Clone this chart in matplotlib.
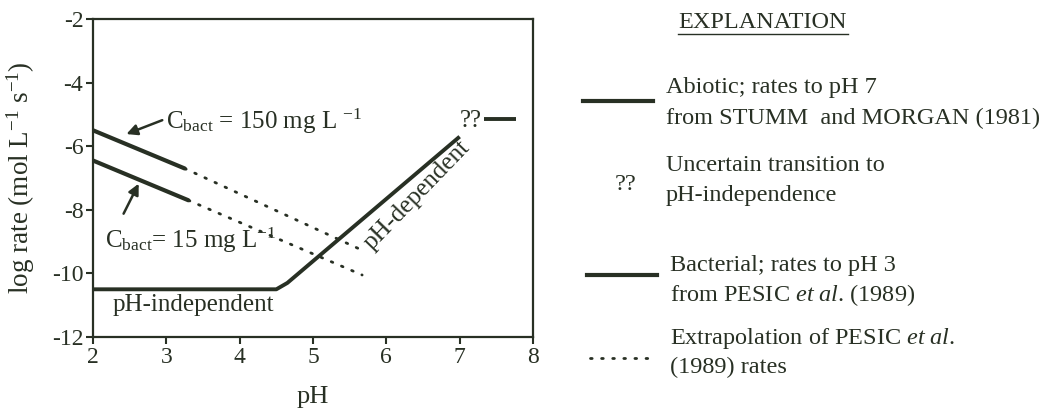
import matplotlib
matplotlib.use("Agg")
import matplotlib.pyplot as plt
from matplotlib.lines import Line2D

plt.rcParams['font.family'] = ['Liberation Serif', 'DejaVu Serif']
plt.rcParams['mathtext.fontset'] = 'custom'
plt.rcParams['mathtext.rm'] = 'Liberation Serif'
plt.rcParams['mathtext.it'] = 'Liberation Serif:italic'
plt.rcParams['axes.unicode_minus'] = False

ink = '#283024'

# abiotic rate curve (Stumm and Morgan)
abiotic_ph = [2.0, 4.5, 4.65, 7.0]
abiotic_rate = [-10.5, -10.5, -10.3, -5.7]
# pH-independent plateau after "??"
plateau_ph = [7.33, 7.77]
plateau_rate = [-5.15, -5.15]

# bacterial rates (Pesic et al.), solid part to pH ~3.25
bact150_ph = [2.0, 3.25]
bact150_rate = [-5.5, -6.7]
bact15_ph = [2.0, 3.3]
bact15_rate = [-6.45, -7.7]
# extrapolations
ext150_ph = [3.25, 5.65]
ext150_rate = [-6.7, -9.25]
ext15_ph = [3.3, 5.67]
ext15_rate = [-7.7, -10.05]

xticks = [2, 3, 4, 5, 6, 7, 8]
yticks = [-2, -4, -6, -8, -10, -12]

W, H = 1043, 411
fig = plt.figure(figsize=(W / 100, H / 100), dpi=100)
ax = fig.add_axes([93 / W, 1 - 337 / H, 440 / W, 318 / H])

ax.plot(abiotic_ph, abiotic_rate, color=ink, lw=2.8, solid_capstyle='butt')
ax.plot(plateau_ph, plateau_rate, color=ink, lw=2.8, solid_capstyle='butt')
ax.plot(bact150_ph, bact150_rate, color=ink, lw=3, solid_capstyle='round')
ax.plot(bact15_ph, bact15_rate, color=ink, lw=3, solid_capstyle='round')
dots = dict(color=ink, lw=2, linestyle=(0, (0.6, 3.4)), dash_capstyle='round')
ax.plot(ext150_ph, ext150_rate, **dots)
ax.plot(ext15_ph, ext15_rate, **dots)

ax.set_xlim(2, 8)
ax.set_ylim(-12, -2)
ax.set_xticks(xticks)
ax.set_yticks(yticks)
ax.tick_params(direction='out', length=5, width=1.5, colors=ink,
               labelsize=17, pad=2)
for s in ax.spines.values():
    s.set_linewidth(1.6)
    s.set_color(ink)
ax.set_xlabel('pH', fontsize=19, color=ink)
ax.xaxis.set_label_coords(0.5, -0.155)
ax.set_ylabel(r'log rate (mol L$^{\mathregular{-1}}$ s$^{\mathregular{-1}}$)',
              fontsize=19.5, color=ink)
ax.yaxis.set_label_coords(-0.127, 0.5)

# annotations
ax.annotate('', xy=(2.42, -5.65), xytext=(2.98, -5.15),
            arrowprops=dict(arrowstyle='-|>', color=ink, lw=1.8, mutation_scale=16))
ax.annotate('', xy=(2.64, -7.1), xytext=(2.4, -8.2),
            arrowprops=dict(arrowstyle='-|>', color=ink, lw=1.8, mutation_scale=16))
ax.text(3.0, -5.45, r'C$_{\mathregular{bact}}$ = 150 mg L $^{\mathregular{-1}}$',
        fontsize=18, color=ink, va='baseline', ha='left')
ax.text(2.17, -9.2, r'C$_{\mathregular{bact}}$= 15 mg L$^{\mathregular{-1}}$',
        fontsize=18, color=ink, va='baseline', ha='left')
ax.text(2.27, -11.0, 'pH-independent', fontsize=18, color=ink, va='center', ha='left')
ax.text(6.42, -7.55, 'pH-dependent', fontsize=18, color=ink, va='center', ha='center',
        rotation=46)
ax.text(7.15, -5.2, '??', fontsize=18, color=ink, va='center', ha='center')

# explanation panel
def fx(px):
    return px / W

def fy(py):
    return 1 - py / H

fs = 17.5
fig.text(fx(678), fy(23), 'EXPLANATION', fontsize=17.5, color=ink, va='center', ha='left')
fig.add_artist(Line2D([fx(678), fx(848)], [fy(34), fy(34)], color=ink, lw=1))

fig.add_artist(Line2D([fx(583), fx(653)], [fy(101), fy(101)], color=ink, lw=3))
fig.text(fx(666), fy(88), 'Abiotic; rates to pH 7', fontsize=fs, color=ink, va='center')
fig.text(fx(666), fy(118), 'from STUMM  and MORGAN (1981)', fontsize=fs, color=ink, va='center')

fig.text(fx(626), fy(184), '??', fontsize=fs, color=ink, va='center', ha='center')
fig.text(fx(666), fy(165), 'Uncertain transition to', fontsize=fs, color=ink, va='center')
fig.text(fx(666), fy(195), 'pH-independence', fontsize=fs, color=ink, va='center')

fig.add_artist(Line2D([fx(587), fx(657)], [fy(275), fy(275)], color=ink, lw=3))
fig.text(fx(670), fy(265), 'Bacterial; rates to pH 3', fontsize=fs, color=ink, va='center')
fig.text(fx(670), fy(295), r'from PESIC $\mathit{et\ al}$. (1989)', fontsize=fs, color=ink, va='center')

fig.add_artist(Line2D([fx(590), fx(652)], [fy(358), fy(358)], color=ink, lw=2,
                      linestyle=(0, (0.6, 3.4)), dash_capstyle='round'))
fig.text(fx(670), fy(338), r'Extrapolation of PESIC $\mathit{et\ al}$.', fontsize=fs, color=ink, va='center')
fig.text(fx(670), fy(367), '(1989) rates', fontsize=fs, color=ink, va='center')

fig.savefig('out.png', dpi=100)
